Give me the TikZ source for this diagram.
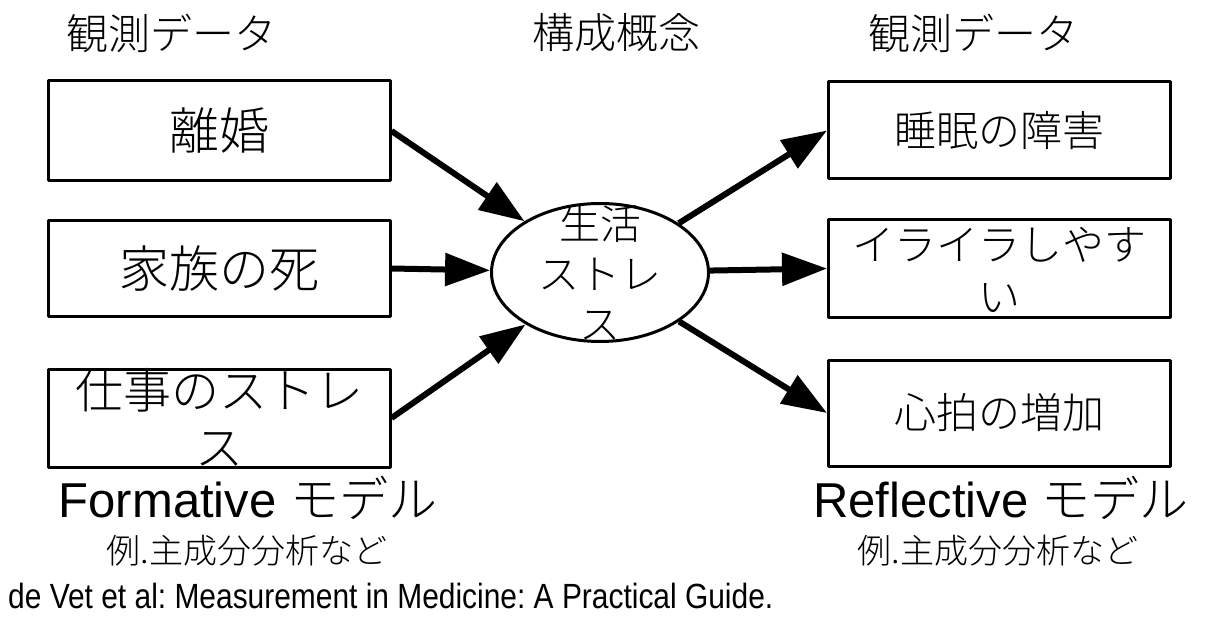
\documentclass[tikz,border=0pt]{standalone}
\usepackage{fontspec}
\setmainfont{Liberation Sans}
\newfontfamily\jp{Noto Sans CJK JP Light}
\usetikzlibrary{shapes.geometric,arrows.meta}
\tikzset{
  obsbox/.style={draw, rectangle, line width=3pt, line join=round, inner sep=0pt, minimum width=342pt},
  construct/.style={draw, ellipse, line width=3pt, inner sep=0pt, minimum width=217pt, minimum height=138pt},
  arr/.style={line width=6pt, -{Triangle[length=45pt,width=32pt]}},
  lbl/.style={inner sep=0pt, align=center},
  lboxtxt/.style={lbl, font=\jp\fontsize{50pt}{58pt}\selectfont},
  rboxtxt/.style={lbl, font=\jp\fontsize{42pt}{52pt}\selectfont},
  headtxt/.style={lbl, font=\jp\fontsize{42pt}{50pt}\selectfont},
  modeltxt/.style={lbl, anchor=base, font=\fontsize{49pt}{58pt}\selectfont},
  exampletxt/.style={lbl, font=\jp\fontsize{34pt}{40pt}\selectfont},
}
\frenchspacing
\begin{document}
\begin{tikzpicture}[x=1pt,y=-1pt]
\fill[white] (0,0) rectangle (1206,620);
\useasboundingbox (0,0) rectangle (1206,620);

% headers
\node[headtxt] (h1) at (171,33) {観測データ};
\node[headtxt] (h2) at (616,33) {構成概念};
\node[headtxt] (h3) at (973,33) {観測データ};

% left boxes
\node[obsbox, minimum height=100pt] (L1) at (219,131) {};
\node[obsbox, minimum height=96pt] (L2) at (219,268.5) {};
\node[obsbox, minimum height=98pt] (L3) at (219,418) {};
\node[lboxtxt] (L1t) at (L1.center) {離婚};
\node[lboxtxt] (L2t) at (L2.center) {家族の死};
\node[lboxtxt, font=\jp\fontsize{48pt}{57pt}\selectfont] (L3t) at (219,417) {仕事のストレ\\ス};

% right boxes
\node[obsbox, minimum height=97pt] (R1) at (999.5,130.5) {};
\node[obsbox, minimum height=97pt] (R2) at (999.5,268.5) {};
\node[obsbox, minimum height=106pt] (R3) at (999.5,413) {};
\node[rboxtxt] (R1t) at (R1.center) {睡眠の障害};
\node[rboxtxt] (R2t) at (999.5,270) {イライラしやす\\い};
\node[rboxtxt] (R3t) at (R3.center) {心拍の増加};

% construct
\node[construct] (E) at (600,272.5) {};
\node[lbl, font=\jp\fontsize{41pt}{50pt}\selectfont] (Et) at (600,272.5) {生活\\ストレ\\ス};

% arrows
\draw[arr] (L1.east) -- (E);
\draw[arr] (L2.east) -- (E);
\draw[arr] (L3.east) -- (E);
\draw[arr] (E) -- (R1.west);
\draw[arr] (E) -- (R2.west);
\draw[arr] (E) -- (R3.west);

% model labels
\node[modeltxt] (fm) at (248,517) {Formative {\jp モデル}};
\node[exampletxt] (fe) at (247,551) {例.主成分分析など};
\node[modeltxt] (rm) at (1001,517) {Reflective {\jp モデル}};
\node[exampletxt] (re) at (998,551) {例.主成分分析など};

% source
\node[lbl, anchor=base west, font=\fontsize{35pt}{40pt}\selectfont] (src) at (8,608) {\scalebox{0.855}[1]{de Vet et al: Measurement in Medicine: A Practical Guide.}};
\end{tikzpicture}
\end{document}
